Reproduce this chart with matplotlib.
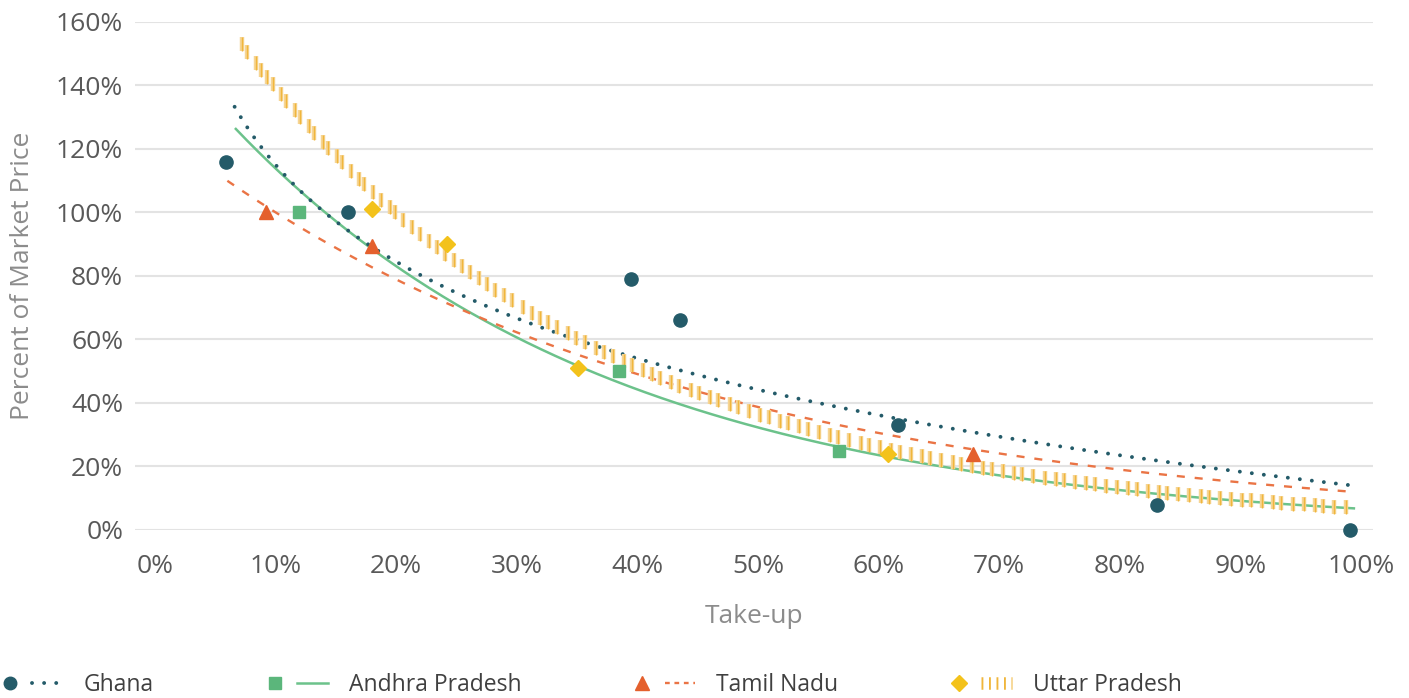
import numpy as np
import matplotlib
matplotlib.use("Agg")
import matplotlib.pyplot as plt
from matplotlib.lines import Line2D
from matplotlib.legend_handler import HandlerTuple

plt.rcParams['font.family'] = ['Open Sans', 'DejaVu Sans']

# observed points (take-up, percent of market price)
ghana_x = [0.059, 0.160, 0.395, 0.435, 0.616, 0.831, 0.991]
ghana_y = [1.16, 1.00, 0.79, 0.66, 0.33, 0.08, 0.00]
andhra_x = [0.119, 0.385, 0.567]
andhra_y = [1.00, 0.50, 0.25]
tamil_x = [0.092, 0.180, 0.678]
tamil_y = [1.00, 0.895, 0.24]
uttar_x = [0.180, 0.242, 0.351, 0.608]
uttar_y = [1.01, 0.90, 0.51, 0.24]

# trendline coefficients
ghana_trend = (0.137, -0.440)      # logarithmic: a + b ln(x)
andhra_trend = (1.560, -3.150)     # exponential: a exp(b x)
tamil_trend = (1.268, -2.372)
uttar_trend = (1.947, -3.345)
# trendline x ranges (start, end)
ghana_trend_range = (0.066, 0.994)
andhra_trend_range = (0.067, 0.994)
tamil_trend_range = (0.060, 0.994)
uttar_trend_range = (0.072, 0.994)

x_ticks = [0.0, 0.1, 0.2, 0.3, 0.4, 0.5, 0.6, 0.7, 0.8, 0.9, 1.0]
y_ticks = [0.0, 0.2, 0.4, 0.6, 0.8, 1.0, 1.2, 1.4, 1.6]

c_ghana = '#245B69'
c_andhra = '#5BB67B'
c_tamil = '#E4602D'
c_uttar = '#F3C21B'


def log_curve(coef, rng):
    xs = np.linspace(rng[0], rng[1], 400)
    return xs, coef[0] + coef[1] * np.log(xs)


def exp_curve(coef, rng):
    xs = np.linspace(rng[0], rng[1], 400)
    return xs, coef[0] * np.exp(coef[1] * xs)


fig = plt.figure(figsize=(14.09, 6.98), dpi=100)
ax = fig.add_axes([0.0958, 0.2407, 0.8787, 0.7278])

# trendlines
gx, gy = log_curve(ghana_trend, ghana_trend_range)
ax.plot(gx, gy, color=c_ghana, lw=2.8, linestyle=(0, (0.01, 3.1)),
        dash_capstyle='round', zorder=3)
apx, apy = exp_curve(andhra_trend, andhra_trend_range)
ax.plot(apx, apy, color='#6CC28B', lw=1.8, zorder=2)
tx, ty = exp_curve(tamil_trend, tamil_trend_range)
ax.plot(tx, ty, color='#EA7445', lw=1.7, linestyle=(0, (3.4, 4.2)), zorder=3)
ux, uy = exp_curve(uttar_trend, uttar_trend_range)
ax.plot(ux, uy, linestyle='none', marker='|', markersize=10, mew=3.2,
        color='#F6D594', markevery=0.0078, zorder=4)
ax.plot(ux, uy, linestyle='none', marker='|', markersize=10, mew=1.0,
        color='#F0B63C', markevery=0.0078, zorder=4)

# points
ax.plot(ghana_x, ghana_y, 'o', color=c_ghana, ms=9.5, zorder=6, clip_on=False)
ax.plot(andhra_x, andhra_y, 's', color=c_andhra, ms=8.5, zorder=6)
ax.plot(tamil_x, tamil_y, '^', color=c_tamil, ms=10, zorder=6)
ax.plot(uttar_x, uttar_y, 'D', color=c_uttar, ms=8.5, zorder=6)

ax.set_xlim(-0.0166, 1.0099)
ax.set_ylim(0, 1.6)
ax.set_xticks(x_ticks)
ax.set_yticks(y_ticks)
ax.set_xticklabels([f"{int(round(v * 100))}%" for v in x_ticks])
ax.set_yticklabels([f"{int(round(v * 100))}%" for v in y_ticks])
ax.tick_params(length=0, labelsize=19, labelcolor='#595959')
ax.tick_params(axis='x', pad=17)
ax.tick_params(axis='y', pad=8.5)
ax.grid(axis='y', color='#E3E3E3', lw=1.5, zorder=0)
ax.set_axisbelow(True)
for s in ax.spines.values():
    s.set_visible(False)

ax.set_xlabel('Take-up', fontsize=19, color='#8C8C8C', labelpad=18)
ax.set_ylabel('Percent of Market Price', fontsize=19, color='#8C8C8C', labelpad=15)

# legend: marker then line
handles = [
    (Line2D([], [], marker='o', color=c_ghana, ls='none', ms=9),
     Line2D([], [], color=c_ghana, lw=2.8, ls=(0, (0.01, 3.1)), dash_capstyle='round')),
    (Line2D([], [], marker='s', color=c_andhra, ls='none', ms=8.5),
     Line2D([], [], color='#6CC28B', lw=1.8)),
    (Line2D([], [], marker='^', color=c_tamil, ls='none', ms=10),
     Line2D([], [], color='#EA7445', lw=1.7, ls=(0, (2.0, 2.0)))),
    (Line2D([], [], marker='D', color=c_uttar, ls='none', ms=8.5),
     Line2D([], [], color='#F0B63C', lw=9, ls=(0, (0.15, 0.45)))),
]
labels = ['Ghana', 'Andhra Pradesh', 'Tamil Nadu', 'Uttar Pradesh']
fig.legend(handles, labels, loc='center left', bbox_to_anchor=(-0.004, 0.018),
           ncol=4, frameon=False, fontsize=16.5, labelcolor='#404040',
           handler_map={tuple: HandlerTuple(ndivide=None, pad=0.3)},
           handlelength=3.0, handletextpad=0.9, columnspacing=4.6,
           borderpad=0, borderaxespad=0)

fig.savefig('out.png', dpi=100)
